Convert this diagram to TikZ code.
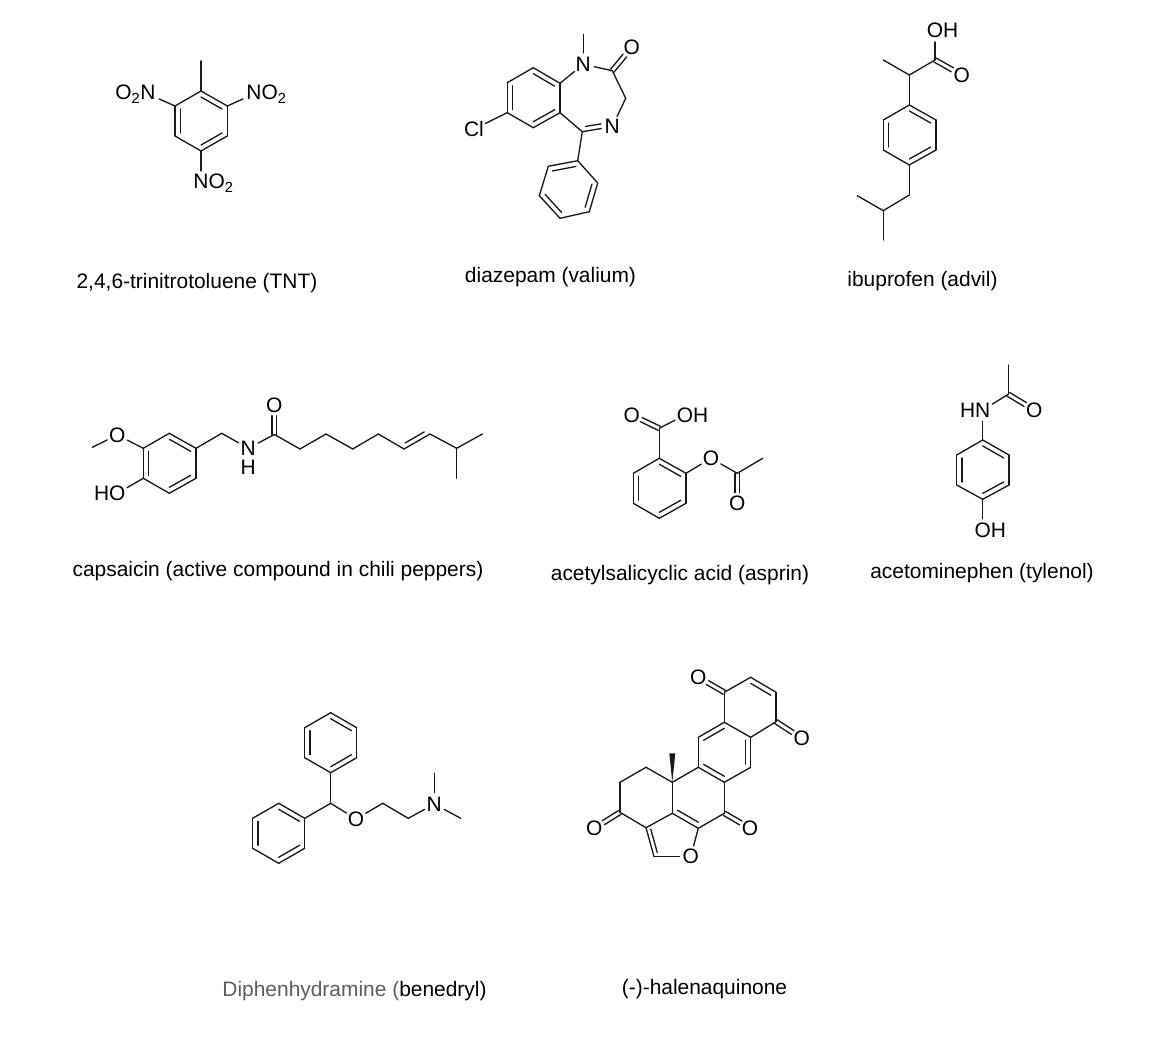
\documentclass[tikz,border=0pt]{standalone}
\usepackage{fontspec}
\setmainfont{Liberation Sans}
\usetikzlibrary{calc}
\tikzset{
  bond/.style={line width=1pt,line cap=round,black!90},
  atom/.style={circle,inner sep=0pt,minimum size=16.5pt,font=\fontsize{15.7}{18}\selectfont},
  caption/.style={inner sep=0pt,font=\fontsize{15.7}{18}\selectfont}
}
% px positions of the carbon atoms, and bonds between them
\newcommand{\carbons}[1]{\foreach \n/\x/\y in {#1} { \coordinate (\n) at (\x,\y); }}
\newcommand{\bonds}[1]{\foreach \a/\b in {#1} { \draw[bond] (\a) -- (\b); }}
% second line of a double bond, pulled towards the centre of its ring
\newcommand{\ringbonds}[2]{\foreach \a/\b in {#2} { \draw[bond] ($(\a)!.2!(#1)$) -- ($(\b)!.2!(#1)$); }}
% C=O, two lines either side of the axis
\newcommand{\carbonyl}[2]{\draw[bond,shorten >=8pt] ($(#1)!1.7pt!90:(#2)$) -- ($(#2)!1.7pt!-90:(#1)$); \draw[bond,shorten >=8pt] ($(#1)!1.7pt!-90:(#2)$) -- ($(#2)!1.7pt!90:(#1)$);}
% second line beside a bond that has no ring centre to use
\newcommand{\sidebond}[4][3pt]{\draw[bond,shorten <=3pt,shorten >=#1] ($(#2)!3.5pt!#4:(#3)$) -- ($(#3)!3.5pt!-#4:(#2)$);}
\begin{document}
\begin{tikzpicture}[x=.75pt,y=-.75pt]
\useasboundingbox (0,0) rectangle (1164,1048);
% TNT
\carbons{tc/201/121, t1/201/91, t2/227.3/106, t3/227.3/136, t4/201/151, t5/175/136, t6/175/106, tme/201/61}
\node[atom] (tnl) at (148,94) {\phantom{N}\llap{O\textsubscript{2}N}};
\node[atom] (tnr) at (254,94) {\rlap{NO\textsubscript{2}}\phantom{N}};
\node[atom] (tnb) at (201,183) {\rlap{NO\textsubscript{2}}\phantom{N}};
\bonds{t1/t2,t2/t3,t3/t4,t4/t5,t5/t6,t6/t1,t1/tme,t2/tnr,t6/tnl,t4/tnb}
\ringbonds{tc}{t1/t2,t3/t4,t5/t6}
% diazepam
\carbons{da/533.5/97.7, d1/560/83.3, d2/533.3/67.7, d3/507.3/82.7, d4/507.3/112.7, d5/533.3/127.7, d6/560/112.7, dco/612.3/70.7, dch/625.7/98.3, dcn/582.3/131.7, dme/583.3/34.3}
\carbons{pa/568.5/189.5, p1/577.7/160.7, p2/597.7/183, p3/589.3/211.7, p4/560/218.3, p5/539.3/195.7, p6/548.3/166.3}
\node[atom] (dn1) at (583.3,64.3) {N};
\node[atom] (dn2) at (612.3,126.7) {N};
\node[atom] (do) at (631.7,47.3) {O};
\node[atom] (dcl) at (474,129) {Cl};
\bonds{d1/d2,d2/d3,d3/d4,d4/d5,d5/d6,d6/d1,d1/dn1,dn1/dme,dn1/dco,dco/dch,dch/dn2,dcn/dn2,d6/dcn,d4/dcl,dcn/p1,p1/p2,p2/p3,p3/p4,p4/p5,p5/p6,p6/p1}
\ringbonds{da}{d1/d2,d3/d4,d5/d6}
\ringbonds{pa}{p6/p1,p2/p3,p4/p5}
\carbonyl{dco}{do}
\sidebond[8pt]{dcn}{dn2}{90}
% ibuprofen
\carbons{ia/909.6/135, i1/909.3/105, i2/936/120, i3/936/150, i4/909.3/165, i5/883.3/150, i6/883.3/120, ich/909.3/75, ime/883.3/60, ico/935/60, icc/909.3/195, ib/883.3/210.7, ib1/857.3/195.7, ib2/883.3/240}
\node[atom] (ioh) at (935,30.7) {\rlap{OH}\phantom{O}};
\node[atom] (io) at (961.7,75) {O};
\bonds{i1/i2,i2/i3,i3/i4,i4/i5,i5/i6,i6/i1,i1/ich,ich/ime,ich/ico,ico/ioh,i4/icc,icc/ib,ib/ib1,ib/ib2}
\ringbonds{ia}{i1/i2,i3/i4,i5/i6}
\carbonyl{ico}{io}
% capsaicin
\carbons{ca/169.6/463.3, c1/143.3/448.3, c2/169.3/433.3, c3/196/448.3, c4/196/478.3, c5/169.3/493.3, c6/143.3/478.3, cme/92.3/447.3, cb/221.7/433.3, cco/274.3/434.5}
\carbons{k1/300/449, k2/326/434, k3/352.7/449, k4/378.3/434, k5/404/449, k6/430/434, k7/456.7/448.3, k8/482.3/434, k9/456.7/478.3}
\node[atom] (cox) at (117.3,435) {O};
\node[atom] (coh) at (117.3,493.3) {\phantom{O}\llap{HO}};
\node[atom] (cn) at (248.3,448.3) {N};
\node[caption] (ch) at (248.3,467) {H};
\node[atom] (co) at (274.3,405) {O};
\bonds{c1/c2,c2/c3,c3/c4,c4/c5,c5/c6,c6/c1,c1/cox,cox/cme,c6/coh,c3/cb,cb/cn,cn/cco,cco/k1,k1/k2,k2/k3,k3/k4,k4/k5,k5/k6,k6/k7,k7/k8,k7/k9}
\ringbonds{ca}{c2/c3,c4/c5,c6/c1}
\carbonyl{cco}{co}
\sidebond{k5}{k6}{90}
% aspirin
\carbons{aa/659.6/488.3, a1/659.3/458.3, a2/686/473.3, a3/686/503.3, a4/659.3/518.3, a5/633.3/503.3, a6/633.3/473.3, acx/659.3/428.3, acy/737.3/473.3, ame/762.7/458.3}
\node[atom] (ao1) at (631.7,415) {O};
\node[atom] (aoh) at (685,415) {\rlap{OH}\phantom{O}};
\node[atom] (ao2) at (711,458.3) {O};
\node[atom] (ao3) at (737.3,503.3) {O};
\bonds{a1/a2,a2/a3,a3/a4,a4/a5,a5/a6,a6/a1,a1/acx,acx/aoh,a2/ao2,ao2/acy,acy/ame}
\ringbonds{aa}{a1/a2,a3/a4,a5/a6}
\carbonyl{acx}{ao1}
\carbonyl{acy}{ao3}
% acetominephen
\carbons{ma/982.9/469.7, m1/982.7/440, m2/1009/455, m3/1009/485, m4/982.7/499.3, m5/956.7/485, m6/956.7/455, mme/1008.3/365, mco/1008.3/394.3}
\node[atom] (mhn) at (982.7,410) {\phantom{N}\llap{HN}};
\node[atom] (mo) at (1034.3,410) {O};
\node[atom] (moh) at (982.7,530) {\rlap{OH}\phantom{O}};
\bonds{m1/m2,m2/m3,m3/m4,m4/m5,m5/m6,m6/m1,m1/mhn,mhn/mco,mco/mme,m4/moh}
\ringbonds{ma}{m1/m2,m3/m4,m5/m6}
\carbonyl{mco}{mo}
% diphenhydramine
\carbons{ua/330.7/742.7, u1/330.7/712.7, u2/356.7/727.7, u3/356.7/757.7, u4/330.7/772.7, u5/304.7/757.7, u6/304.7/727.7}
\carbons{la/278.7/833.3, l1/304.7/818.3, l2/304.7/848.3, l3/278.7/863.3, l4/252.7/848.3, l5/252.7/818.3, l6/278.7/803.3}
\carbons{uch/330.7/803.3, uc1/382.7/803.3, uc2/408.3/818.3, ume1/434.3/773.3, ume2/460.7/818.3}
\node[atom] (uo) at (356,819) {O};
\node[atom] (un) at (434.3,804) {N};
\bonds{u1/u2,u2/u3,u3/u4,u4/u5,u5/u6,u6/u1,l1/l2,l2/l3,l3/l4,l4/l5,l5/l6,l6/l1,u4/uch,uch/l1,uch/uo,uo/uc1,uc1/uc2,uc2/un,un/ume1,un/ume2}
\ringbonds{ua}{u1/u2,u3/u4,u5/u6}
\ringbonds{la}{l6/l1,l2/l3,l4/l5}
% halenaquinone
\carbons{ra/750.3/707.3, rb/724.5/752.3, rc/698.3/797.8, rf/670/835}
\carbons{h1/724.3/692.3, h2/750.7/677.3, h3/776/692.3, h4/776/721.7, h5/750.7/737.3, h6/724.3/722.3, h7/698.3/737.3, h8/698.3/767.3, h9/724.3/782.3, h10/750.7/767.3}
\carbons{h11/672.3/782.3, h12/646/767.3, h13/620/782.3, h14/620/812.3, h15/646/827.7, h16/672.3/813.3, h17/698.3/828.3, h18/724.3/813.3, h19/654/856.7, hme/672.3/753.3}
\node[atom] (ho1) at (698.3,677.3) {O};
\node[atom] (ho2) at (801.7,738.3) {O};
\node[atom] (ho3) at (750,828.3) {O};
\node[atom] (ho4) at (594.3,828.3) {O};
\node[atom] (ho5) at (690.7,856.7) {O};
\bonds{h1/h2,h2/h3,h3/h4,h4/h5,h5/h6,h6/h1,h6/h7,h7/h8,h8/h9,h9/h10,h10/h5,h9/h18,h8/h11,h11/h12,h12/h13,h13/h14,h14/h15,h15/h16,h11/h16,h16/h17,h17/h18,h15/h19,h19/ho5,ho5/h17}
\ringbonds{ra}{h2/h3}
\ringbonds{rb}{h6/h7,h8/h9,h5/h10}
\ringbonds{rc}{h16/h17}
\ringbonds{rf}{h15/h19}
\carbonyl{h1}{ho1}
\carbonyl{h4}{ho2}
\carbonyl{h18}{ho3}
\carbonyl{h14}{ho4}
\fill[black!90] (h11) -- ($(hme)+(-3,0)$) -- ($(hme)+(3,0)$) -- cycle;
% names
\node[caption] (ltnt) at (197,283) {2,4,6-trinitrotoluene (TNT)};
\node[caption] (ldia) at (550.5,277) {diazepam (valium)};
\node[caption] (libu) at (922.5,281) {ibuprofen (advil)};
\node[caption] (lcap) at (278,571) {capsaicin (active compound in chili peppers)};
\node[caption] (lasp) at (680,575) {acetylsalicyclic acid (asprin)};
\node[caption] (lace) at (982,573) {acetominephen (tylenol)};
\node[caption] (ldip) at (354.5,991) {\textcolor[HTML]{5A5D61}{Diphenhydramine (}benedryl)};
\node[caption] (lhal) at (704.5,989) {(-)-halenaquinone};
\end{tikzpicture}
\end{document}
